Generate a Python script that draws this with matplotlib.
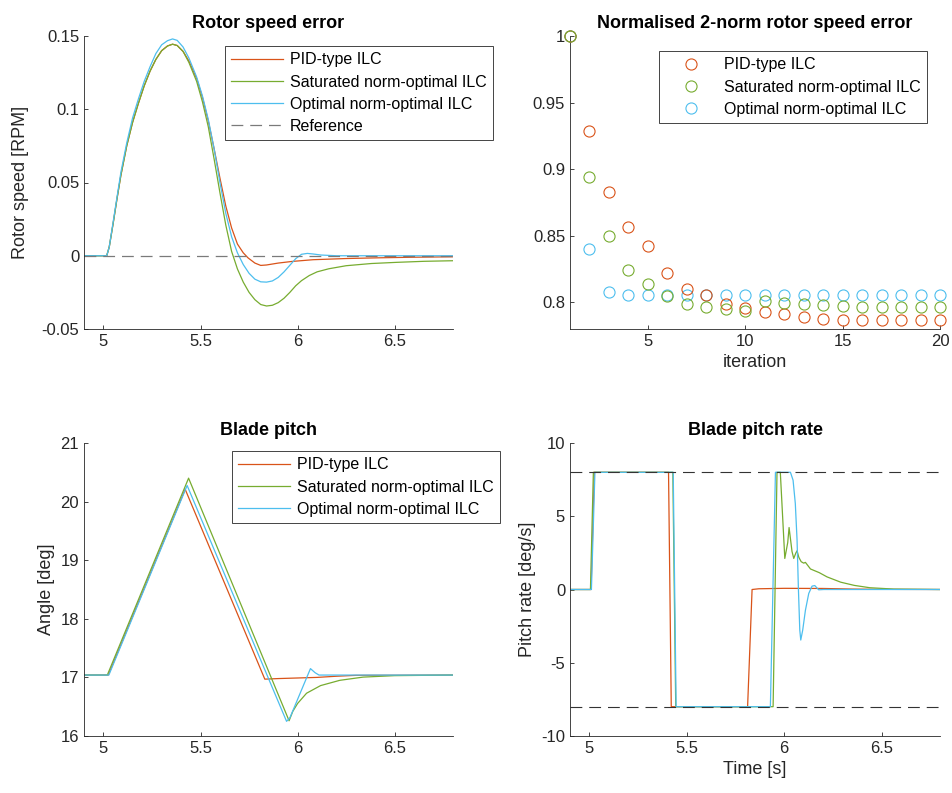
import numpy as np
import matplotlib
matplotlib.use("Agg")
import matplotlib.pyplot as plt

plt.rcParams['font.family'] = ['Liberation Sans', 'DejaVu Sans']
plt.rcParams['lines.scale_dashes'] = False
plt.rcParams['axes.unicode_minus'] = False

# --- colours (MATLAB default order) ---
C_PID = '#D95319'
C_SAT = '#77AC30'
C_OPT = '#4DBEEE'
AX_COL = '#262626'

labels = ['PID-type ILC', 'Saturated norm-optimal ILC', 'Optimal norm-optimal ILC']

# --- rotor speed error [RPM] ---
rse_t_pid = [4.9, 5.017, 5.03, 5.05, 5.07, 5.09, 5.12, 5.15, 5.18, 5.21, 5.24, 5.27,
             5.30, 5.33, 5.356, 5.38, 5.41, 5.44, 5.48, 5.51, 5.54, 5.57, 5.60, 5.63,
             5.66, 5.69, 5.72, 5.745, 5.78, 5.81, 5.84, 5.90, 5.97, 6.08, 6.25, 6.42,
             6.6, 6.8]
rse_v_pid = [0, 0, 0.006, 0.022, 0.039, 0.055, 0.075, 0.091, 0.104, 0.116, 0.126, 0.134,
             0.14, 0.1432, 0.1444, 0.1435, 0.1395, 0.133, 0.121, 0.108, 0.092, 0.073, 0.053, 0.034,
             0.019, 0.008, 0.002, -0.0015, -0.005, -0.0066, -0.0063, -0.005, -0.0039, -0.0027, -0.0019, -0.0014,
             -0.001, -0.0007]
rse_t_sat = [4.9, 5.017, 5.03, 5.05, 5.07, 5.09, 5.12, 5.15, 5.18, 5.21, 5.24, 5.27,
             5.30, 5.33, 5.356, 5.38, 5.41, 5.44, 5.48, 5.51, 5.54, 5.57, 5.60, 5.63,
             5.66, 5.69, 5.72, 5.75, 5.78, 5.81, 5.84, 5.87, 5.90, 5.93, 5.96, 5.99,
             6.02, 6.06, 6.10, 6.16, 6.25, 6.38, 6.51, 6.65, 6.8]
rse_v_sat = [0, 0, 0.006, 0.022, 0.039, 0.055, 0.075, 0.091, 0.104, 0.116, 0.126, 0.134,
             0.14, 0.1432, 0.1444, 0.1435, 0.1395, 0.132, 0.119, 0.105, 0.088, 0.066, 0.043, 0.021,
             0.003, -0.009, -0.018, -0.025, -0.030, -0.0333, -0.0343, -0.0338, -0.032, -0.029, -0.025, -0.0205,
             -0.017, -0.0135, -0.011, -0.0089, -0.0068, -0.0053, -0.0045, -0.0038, -0.0034]
rse_t_opt = [4.9, 5.017, 5.03, 5.05, 5.07, 5.09, 5.12, 5.15, 5.18, 5.21, 5.24, 5.27,
             5.30, 5.33, 5.356, 5.38, 5.41, 5.44, 5.48, 5.51, 5.54, 5.57, 5.60, 5.63,
             5.66, 5.69, 5.72, 5.75, 5.78, 5.81, 5.84, 5.87, 5.90, 5.93, 5.96, 5.99,
             6.02, 6.05, 6.08, 6.12, 6.2, 6.8]
rse_v_opt = [0, 0, 0.006, 0.023, 0.04, 0.057, 0.077, 0.094, 0.107, 0.119, 0.129, 0.138,
             0.144, 0.1468, 0.148, 0.147, 0.1425, 0.135, 0.122, 0.109, 0.093, 0.073, 0.05, 0.029,
             0.013, 0.002, -0.006, -0.012, -0.016, -0.0178, -0.018, -0.0172, -0.0148, -0.011, -0.0065, -0.002,
             0.001, 0.0016, 0.0012, 0.0005, 0.0, 0.0]

# --- normalised 2-norm error per iteration ---
iterations = list(range(1, 21))
norm_pid = [1.0, 0.9286, 0.883, 0.8569, 0.8421, 0.8223, 0.810, 0.8055, 0.7985, 0.796,
            0.793, 0.7915, 0.789, 0.7877, 0.787, 0.7865, 0.7865, 0.7865, 0.7865, 0.7865]
norm_sat = [1.0, 0.894, 0.8496, 0.8243, 0.814, 0.8045, 0.7985, 0.7966, 0.7948, 0.7935,
            0.801, 0.7998, 0.7985, 0.798, 0.7972, 0.7966, 0.7966, 0.7966, 0.7966, 0.7966]
norm_opt = [1.0, 0.840, 0.8078, 0.8058, 0.8058, 0.8058, 0.8058, 0.8058, 0.8058, 0.8058,
            0.8058, 0.8058, 0.8058, 0.8058, 0.8058, 0.8058, 0.8058, 0.8058, 0.8058, 0.8058]

# --- blade pitch [deg] ---
bp_t_pid = [4.9, 5.025, 5.421, 5.831, 5.9, 6.0, 6.1, 6.2, 6.3, 6.8]
bp_v_pid = [17.04, 17.04, 20.21, 16.97, 16.98, 16.99, 17.0, 17.02, 17.035, 17.04]
bp_t_sat = [4.9, 5.02, 5.4385, 5.956, 5.975, 6.0, 6.046, 6.118, 6.217, 6.337, 6.5, 6.8]
bp_v_sat = [17.04, 17.04, 20.40, 16.26, 16.42, 16.556, 16.73, 16.86, 16.95, 17.005, 17.03, 17.04]
bp_t_opt = [4.9, 5.028, 5.431, 5.943, 5.96, 6.066, 6.09, 6.11, 6.8]
bp_v_opt = [17.04, 17.04, 20.275, 16.25, 16.31, 17.15, 17.08, 17.04, 17.04]

# --- blade pitch rate [deg/s] ---
rate_limit = 8
pr_t_pid = [4.9, 5.008, 5.025, 5.406, 5.42, 5.812, 5.835, 5.87, 6.0, 6.2, 6.35, 6.5, 6.8]
pr_v_pid = [0, 0, 8, 8, -8, -8, 0, 0.05, 0.08, 0.07, 0.03, 0.01, 0]
pr_t_sat = [4.9, 5.005, 5.02, 5.428, 5.443, 5.943, 5.963, 5.98, 6.003, 6.018, 6.025, 6.04,
            6.049, 6.06, 6.066, 6.075, 6.087, 6.1, 6.109, 6.135, 6.18, 6.22, 6.29, 6.36,
            6.44, 6.563, 6.8]
pr_v_sat = [0, 0, 8, 8, -8, -8, 8, 8, 2.12, 3.2, 4.23, 2.6,
            2.12, 2.5, 2.64, 2.2, 1.9, 1.8, 1.85, 1.4, 1.15, 0.86, 0.5, 0.28,
            0.12, 0.03, 0]
pr_t_opt = [4.9, 5.01, 5.028, 5.43, 5.445, 5.929, 5.955, 6.032, 6.0455, 6.057, 6.066,
            6.073, 6.08, 6.085, 6.095, 6.109, 6.126, 6.143, 6.157, 6.177, 6.203, 6.8]
pr_v_opt = [0, 0, 8, 8, -8, -8, 8, 8, 7.46, 5.87, 3.37,
            0, -2.77, -3.45, -2.77, -1.41, -0.27, 0.23, 0.27, -0.02, 0, 0]

time_ticks = [5, 5.5, 6, 6.5]
time_ticklabels = ['5', '5.5', '6', '6.5']

W, H = 952, 793
fig = plt.figure(figsize=(W / 100, H / 100), dpi=100)


def rect(x0, y0, x1, y1):
    return [x0 / W, 1 - y1 / H, (x1 - x0) / W, (y1 - y0) / H]


def style(ax):
    for s in ['top', 'right']:
        ax.spines[s].set_visible(False)
    for s in ['left', 'bottom']:
        ax.spines[s].set_color(AX_COL)
        ax.spines[s].set_linewidth(0.6)
    ax.tick_params(direction='in', length=3, width=0.6, color=AX_COL,
                   labelcolor=AX_COL, labelsize=12)


def legend(ax, handles, x0, y0):
    leg = ax.legend(handles=handles, loc='upper left', bbox_to_anchor=(x0 / W, 1 - y0 / H),
                    bbox_transform=fig.transFigure, borderaxespad=0, fontsize=11.5,
                    handlelength=3.2, handletextpad=0.45, labelspacing=0.45,
                    borderpad=0.4, fancybox=False, framealpha=1, edgecolor=AX_COL)
    leg.get_frame().set_linewidth(0.6)
    return leg


LW = 0.9
dash = (0, (8.5, 5))

# Rotor speed error
ax1 = fig.add_axes(rect(84, 36, 453, 329))
l1, = ax1.plot(rse_t_pid, rse_v_pid, color=C_PID, lw=LW, label=labels[0])
l2, = ax1.plot(rse_t_sat, rse_v_sat, color=C_SAT, lw=LW, label=labels[1])
l3, = ax1.plot(rse_t_opt, rse_v_opt, color=C_OPT, lw=LW, label=labels[2])
l4 = ax1.axhline(0, color='#7a7a7a', lw=LW, ls=dash, label='Reference')
ax1.set_xlim(4.9, 6.8)
ax1.set_ylim(-0.05, 0.15)
ax1.set_xticks(time_ticks)
ax1.set_xticklabels(time_ticklabels)
ax1.set_yticks([-0.05, 0, 0.05, 0.1, 0.15])
ax1.set_yticklabels(['-0.05', '0', '0.05', '0.1', '0.15'])
ax1.set_ylabel('Rotor speed [RPM]', fontsize=13, color=AX_COL, labelpad=9)
ax1.set_title('Rotor speed error', fontsize=13, fontweight='bold', color='k')
style(ax1)
legend(ax1, [l1, l2, l3, l4], 225, 46)

# Normalised 2-norm error
ax2 = fig.add_axes(rect(570, 36, 940, 329))
m3, = ax2.plot(iterations, norm_opt, 'o', color=C_OPT, mfc='none', ms=8, mew=0.8,
               clip_on=False, label=labels[2], zorder=2)
m1, = ax2.plot(iterations, norm_pid, 'o', color=C_PID, mfc='none', ms=8, mew=0.8,
               clip_on=False, label=labels[0], zorder=3)
m2, = ax2.plot(iterations, norm_sat, 'o', color=C_SAT, mfc='none', ms=8, mew=0.8,
               clip_on=False, label=labels[1], zorder=4)
ax2.set_xlim(1, 20)
ax2.set_ylim(0.78, 1)
ax2.set_xticks([5, 10, 15, 20])
ax2.set_yticks([0.8, 0.85, 0.9, 0.95, 1])
ax2.set_yticklabels(['0.8', '0.85', '0.9', '0.95', '1'])
ax2.set_xlabel('iteration', fontsize=13, color=AX_COL)
ax2.set_title('Normalised 2-norm rotor speed error', fontsize=13, fontweight='bold', color='k')
style(ax2)
legend(ax2, [m1, m2, m3], 659, 51)

# Blade pitch
ax3 = fig.add_axes(rect(84, 443, 453, 736))
b1, = ax3.plot(bp_t_pid, bp_v_pid, color=C_PID, lw=LW, label=labels[0])
b2, = ax3.plot(bp_t_sat, bp_v_sat, color=C_SAT, lw=LW, label=labels[1])
b3, = ax3.plot(bp_t_opt, bp_v_opt, color=C_OPT, lw=LW, label=labels[2])
ax3.set_xlim(4.9, 6.8)
ax3.set_ylim(16, 21)
ax3.set_xticks(time_ticks)
ax3.set_xticklabels(time_ticklabels)
ax3.set_yticks([16, 17, 18, 19, 20, 21])
ax3.set_ylabel('Angle [deg]', fontsize=13, color=AX_COL)
ax3.set_title('Blade pitch', fontsize=13, fontweight='bold', color='k')
style(ax3)
legend(ax3, [b1, b2, b3], 232, 451)

# Blade pitch rate
ax4 = fig.add_axes(rect(570, 443, 940, 736))
ax4.plot(pr_t_pid, pr_v_pid, color=C_PID, lw=LW)
ax4.plot(pr_t_sat, pr_v_sat, color=C_SAT, lw=LW)
ax4.plot(pr_t_opt, pr_v_opt, color=C_OPT, lw=LW)
ax4.axhline(rate_limit, color='#333333', lw=0.8, ls=dash)
ax4.axhline(-rate_limit, color='#333333', lw=0.8, ls=dash)
ax4.set_xlim(4.9, 6.8)
ax4.set_ylim(-10, 10)
ax4.set_xticks(time_ticks)
ax4.set_xticklabels(time_ticklabels)
ax4.set_yticks([-10, -5, 0, 5, 10])
ax4.set_xlabel('Time [s]', fontsize=13, color=AX_COL)
ax4.set_ylabel('Pitch rate [deg/s]', fontsize=13, color=AX_COL)
ax4.set_title('Blade pitch rate', fontsize=13, fontweight='bold', color='k')
style(ax4)

fig.savefig('out.png', dpi=100)
